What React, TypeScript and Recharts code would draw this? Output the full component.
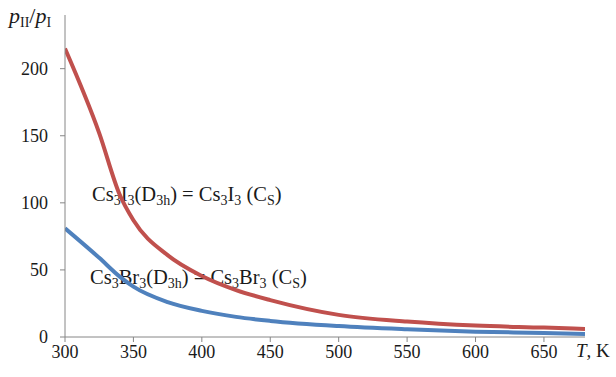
import { LineChart, Line, XAxis, YAxis, Customized } from "recharts";

const temps = [300, 325, 340, 350, 375, 400, 425, 450, 500, 550, 600, 650, 680];
const iodideRatio = [215, 152, 106, 87, 61, 45.5, 35, 27.5, 16.5, 11.5, 8.5, 7, 6];
const bromideRatio = [81, 59, 45, 37.5, 26, 19.5, 15, 12, 8.2, 5.8, 4, 3, 2.2];
const xTicks = [300, 350, 400, 450, 500, 550, 600, 650];
const yTicks = [0, 50, 100, 150, 200];

const data = temps.map((t, i) => ({
  t,
  iodide: iodideRatio[i],
  bromide: bromideRatio[i],
}));

const FONT = "Liberation Serif";
const INK = "#1a1a1a";
const RED = "#C0504D";
const BLUE = "#4F81BD";
const AXIS = "#868686";

function XTick({ x, y, payload }: any) {
  return (
    <text x={x} y={y + 12} textAnchor="middle" fill={INK} style={{ fontFamily: FONT, fontSize: 18 }}>
      {payload.value}
    </text>
  );
}

function YTick({ x, y, payload }: any) {
  return (
    <text x={x} y={y + 6} textAnchor="end" fill={INK} style={{ fontFamily: FONT, fontSize: 18 }}>
      {payload.value}
    </text>
  );
}

// formula with subscripts; parts alternate normal / subscript
function Formula({ x, y, parts }: { x: number; y: number; parts: string[] }) {
  return (
    <text x={x} y={y} fill={INK} style={{ fontFamily: FONT, fontSize: 20.5 }}>
      {parts.map((p, i) =>
        i % 2 === 1 ? (
          <tspan key={i} dy={4} style={{ fontSize: 14 }}>
            {p}
          </tspan>
        ) : (
          <tspan key={i} dy={i === 0 ? 0 : -4}>
            {p}
          </tspan>
        )
      )}
    </text>
  );
}

function Annotations() {
  return (
    <g>
      <text x={9} y={23} fill={INK} style={{ fontFamily: FONT, fontSize: 22 }}>
        <tspan fontStyle="italic">p</tspan>
        <tspan dy={4} style={{ fontSize: 14 }}>II</tspan>
        <tspan dy={-4}>/</tspan>
        <tspan fontStyle="italic">p</tspan>
        <tspan dy={4} style={{ fontSize: 14 }}>I</tspan>
      </text>
      <text x={576} y={357} fill={INK} style={{ fontFamily: FONT, fontSize: 19 }}>
        <tspan fontStyle="italic">T</tspan>
        <tspan>, K</tspan>
      </text>
      <Formula x={92} y={201} parts={["Cs", "3", "I", "3", "(D", "3h", ") = Cs", "3", "I", "3", " (C", "S", ")"]} />
      <Formula x={90} y={284} parts={["Cs", "3", "Br", "3", "(D", "3h", ") = Cs", "3", "Br", "3", " (C", "S", ")"]} />
    </g>
  );
}

export default function App() {
  return (
    <div style={{ position: "absolute", left: 0, top: 0, background: "#fff" }}>
      <LineChart
        width={616}
        height={377}
        data={data}
        margin={{ top: 15, right: 31, left: 0, bottom: 0 }}
      >
        <XAxis
          dataKey="t"
          type="number"
          domain={[300, 680]}
          ticks={xTicks}
          allowDataOverflow
          stroke={AXIS}
          tickSize={5}
          tickMargin={4}
          height={40}
          tick={<XTick />}
        />
        <YAxis
          type="number"
          domain={[0, 240]}
          ticks={yTicks}
          allowDataOverflow
          stroke={AXIS}
          tickSize={5}
          tickMargin={12}
          width={65}
          tick={<YTick />}
        />
        <Line
          type="monotone"
          dataKey="iodide"
          stroke={RED}
          strokeWidth={4}
          dot={false}
          isAnimationActive={false}
        />
        <Line
          type="monotone"
          dataKey="bromide"
          stroke={BLUE}
          strokeWidth={4}
          dot={false}
          isAnimationActive={false}
        />
        <Customized component={Annotations} />
      </LineChart>
    </div>
  );
}
